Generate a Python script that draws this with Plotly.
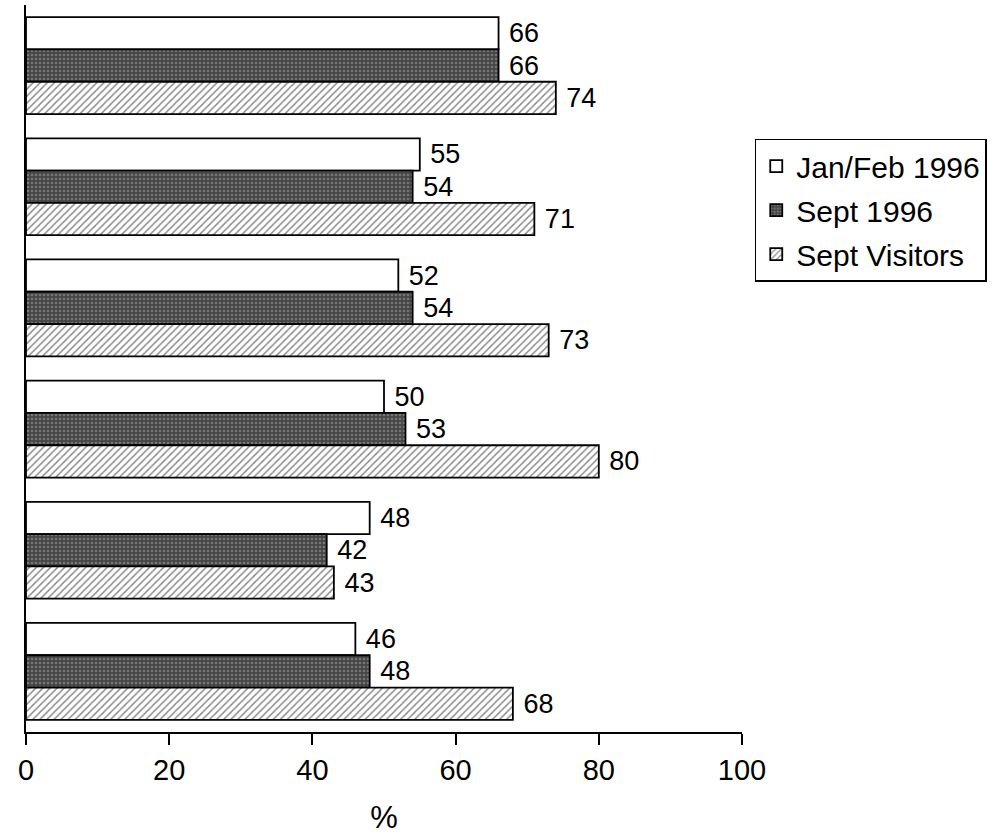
import plotly.graph_objects as go

# Survey response shares (%), six question groups, top to bottom
groups = ["G1", "G2", "G3", "G4", "G5", "G6"]
jan_feb_1996 = [66, 55, 52, 50, 48, 46]
sept_1996 = [66, 54, 54, 53, 42, 48]
sept_visitors = [74, 71, 73, 80, 43, 68]

series_names = ["Jan/Feb 1996", "Sept 1996", "Sept Visitors"]
x_ticks = [0, 20, 40, 60, 80, 100]

FONT = "Liberation Sans, Arial, sans-serif"

styles = [
    dict(color="white", pattern=dict(shape="")),
    dict(color="#454545", pattern=dict(shape=".", fgcolor="#a8a8a8", bgcolor="#454545",
                                       size=4, solidity=0.35)),
    dict(color="white", pattern=dict(shape="/", fgcolor="#1a1a1a", bgcolor="white",
                                     size=5, solidity=0.3)),
]

fig = go.Figure()
for name, vals, st in zip(series_names, [jan_feb_1996, sept_1996, sept_visitors], styles):
    fig.add_trace(go.Bar(
        y=groups, x=vals, orientation="h", name=name, legendgroup=name,
        # non-breaking space keeps a small gap between bar end and its value
        texttemplate="\u00a0%{x}", textposition="outside",
        textfont=dict(size=27, color="black", family=FONT),
        cliponaxis=False,
        marker=dict(color=st["color"], pattern=st["pattern"],
                    line=dict(color="black", width=1.8)),
    ))

fig.update_layout(
    width=1005, height=835,
    margin=dict(l=26, r=263, t=5, b=103, autoexpand=False),
    paper_bgcolor="white", plot_bgcolor="white",
    barmode="group", bargap=0.2, bargroupgap=0,
    font=dict(family=FONT, color="black"),
    legend=dict(
        xref="container", yref="container", x=0.751, y=0.834,
        xanchor="left", yanchor="top", traceorder="grouped",
        bordercolor="black", borderwidth=1.5, bgcolor="white",
        font=dict(size=30, family=FONT), itemwidth=30, tracegroupgap=2,
    ),
    xaxis=dict(
        range=[0, 100], tickvals=x_ticks, ticks="outside", ticklen=11,
        tickwidth=2, tickcolor="black", showgrid=False, zeroline=False,
        showline=True, linecolor="black", linewidth=2, automargin=False,
        tickfont=dict(size=29, family=FONT),
        title=dict(text="%", font=dict(size=31, family=FONT), standoff=27),
    ),
    yaxis=dict(
        autorange="reversed", showticklabels=False, ticks="",
        showgrid=False, zeroline=False, automargin=False,
        showline=True, linecolor="black", linewidth=2,
    ),
)

fig.write_html("out.html")
